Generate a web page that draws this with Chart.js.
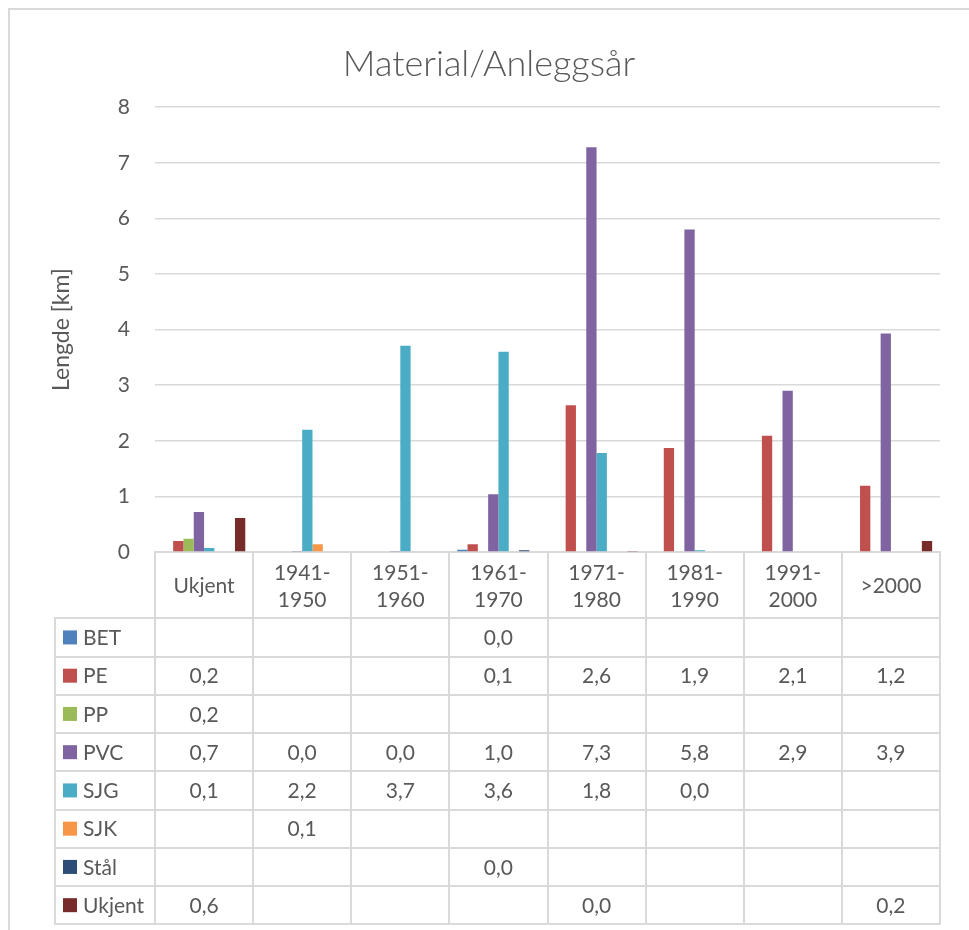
<!DOCTYPE html>
<html lang="no">
<head>
<meta charset="utf-8">
<title>Material/Anleggsår</title>
<script src="https://cdn.jsdelivr.net/npm/chart.js@4.4.1/dist/chart.umd.min.js"></script>
<style>
  html, body { margin: 0; padding: 0; background: #ffffff; }
  canvas { display: block; }
</style>
</head>
<body>
<canvas id="chart" width="969" height="930"></canvas>
<script>
// Anleggsperioder (kategorier på x-aksen)
const categories = ['Ukjent', '1941-1950', '1951-1960', '1961-1970', '1971-1980', '1981-1990', '1991-2000', '>2000'];

// Lengde i km per material og periode (null = ingen ledning)
const bet    = [null, null, null, 0.04, null, null, null, null];
const pe     = [0.20, null, null, 0.14, 2.64, 1.87, 2.09, 1.19];
const pp     = [0.24, null, null, null, null, null, null, null];
const pvc    = [0.72, 0.01, 0.02, 1.04, 7.28, 5.80, 2.90, 3.93];
const sjg    = [0.07, 2.20, 3.71, 3.60, 1.78, 0.03, null, null];
const sjk    = [null, 0.14, null, null, null, null, null, null];
const staal  = [null, null, null, 0.03, null, null, null, null];
const ukjent = [0.61, null, null, null, 0.01, null, null, 0.20];

const seriesNames = ['BET', 'PE', 'PP', 'PVC', 'SJG', 'SJK', 'Stål', 'Ukjent'];
const seriesData  = [bet, pe, pp, pvc, sjg, sjk, staal, ukjent];
const seriesColors = ['#4F81BD', '#C0504D', '#9BBB59', '#8064A2', '#4BACC6', '#F79646', '#2C4D75', '#772C2A'];

// Y-akse: 0 til 8 km, steg 1
const yMin = 0, yMax = 8, yStep = 1;

const TEXT = '#595959';
const GRID = '#d9d9d9';
const FONT = 'Lato, "Open Sans", sans-serif';
const HEADER_H = 66.3;   // høyde på raden med periodenavn
const ROW_H = 38.25;     // høyde på hver tabellrad
const LEGEND_LEFT = 55;  // venstre kant av forklaringskolonnen
const PAD_LEFT = 38;
const PLOT_LEFT = 155;

const fmt = v => v.toFixed(1).replace('.', ',');

// Tegner ramme, datatabell og forklaring under diagrammet
const dataTable = {
  id: 'dataTable',
  beforeDraw(chart) {
    const ctx = chart.ctx;
    ctx.save();
    ctx.strokeStyle = GRID;
    ctx.lineWidth = 2;
    ctx.beginPath();
    ctx.moveTo(9, chart.height);
    ctx.lineTo(9, 9);
    ctx.lineTo(chart.width, 9);
    ctx.stroke();
    ctx.restore();
  },
  afterDraw(chart) {
    const { ctx, chartArea, scales: { x } } = chart;
    const n = chart.data.labels.length;
    const step = (x.right - x.left) / n;
    const headTop = chartArea.bottom;
    const headBottom = headTop + HEADER_H;
    const datasets = chart.data.datasets;
    const tableBottom = headBottom + datasets.length * ROW_H;

    ctx.save();
    ctx.strokeStyle = GRID;
    ctx.lineWidth = 2;
    const line = (x1, y1, x2, y2) => {
      ctx.beginPath(); ctx.moveTo(x1, y1); ctx.lineTo(x2, y2); ctx.stroke();
    };
    for (let i = 0; i <= n; i++) {
      const px = Math.round(x.getPixelForValue(Math.min(i, n - 1)) + (i < n ? -step / 2 : step / 2));
      line(px, headTop, px, tableBottom);
    }
    line(LEGEND_LEFT, headBottom, LEGEND_LEFT, tableBottom);
    for (let r = 0; r <= datasets.length; r++) {
      const py = Math.round(headBottom + r * ROW_H);
      line(LEGEND_LEFT - 1, py, x.right + 1, py);
    }

    ctx.font = '21px ' + FONT;
    ctx.fillStyle = TEXT;
    ctx.textBaseline = 'middle';
    datasets.forEach((ds, r) => {
      const cy = headBottom + (r + 0.5) * ROW_H;
      ctx.fillStyle = ds.backgroundColor;
      ctx.fillRect(63, cy - 7, 14, 14);
      ctx.fillStyle = TEXT;
      ctx.textAlign = 'left';
      ctx.fillText(ds.label, 83, cy + 1);
      ctx.textAlign = 'center';
      ds.data.forEach((v, i) => {
        if (v === null) return;
        ctx.fillText(fmt(v), x.getPixelForValue(i), cy + 1);
      });
    });
    ctx.restore();
  }
};

new Chart(document.getElementById('chart'), {
  type: 'bar',
  data: {
    labels: categories,
    datasets: seriesNames.map((name, i) => ({
      label: name,
      data: seriesData[i],
      backgroundColor: seriesColors[i],
      borderWidth: 0,
      categoryPercentage: 0.84,
      barPercentage: 1.0
    }))
  },
  options: {
    responsive: false,
    animation: false,
    layout: { padding: { top: 10, left: PAD_LEFT, right: 29, bottom: 930 - 552 - HEADER_H } },
    plugins: {
      legend: { display: false },
      tooltip: { enabled: false },
      title: {
        display: true,
        text: 'Material/Anleggsår',
        color: TEXT,
        font: { family: FONT, size: 36, weight: 300 },
        padding: { top: 33, bottom: 21 }
      }
    },
    scales: {
      x: {
        grid: { display: false, drawTicks: false },
        border: { display: true, color: GRID, width: 2 },
        ticks: {
          color: TEXT,
          font: { family: FONT, size: 21, lineHeight: 1.3 },
          padding: 21,
          crossAlign: 'center',
          maxRotation: 0,
          autoSkip: false,
          callback: function (value) {
            const label = this.getLabelForValue(value);
            return label.includes('-') ? [label.split('-')[0] + '-', label.split('-')[1]] : label;
          }
        },
        afterFit(scale) { scale.height = HEADER_H; }
      },
      y: {
        min: yMin,
        max: yMax,
        grid: { color: GRID, lineWidth: 1.5, drawTicks: false },
        border: { display: false },
        ticks: {
          stepSize: yStep,
          color: TEXT,
          font: { family: FONT, size: 21 },
          padding: 25
        },
        title: {
          display: true,
          text: 'Lengde [km]',
          color: TEXT,
          font: { family: FONT, size: 23 },
          padding: { top: 10, bottom: 0 }
        },
        afterFit(scale) { scale.width = PLOT_LEFT - PAD_LEFT; }
      }
    }
  },
  plugins: [dataTable]
});
</script>
</body>
</html>
